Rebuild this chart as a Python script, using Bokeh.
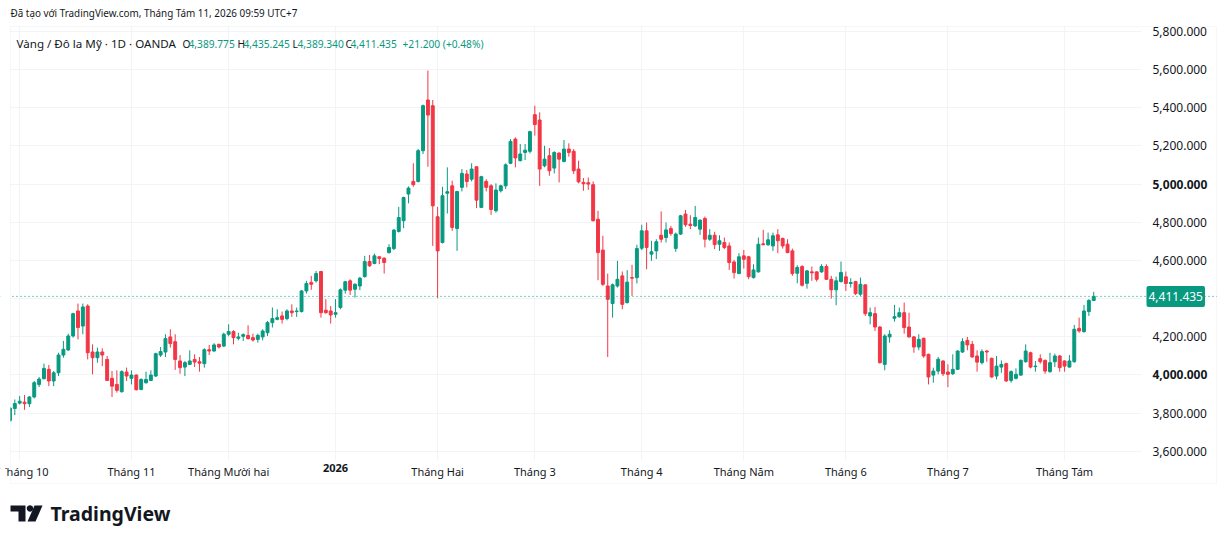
import math
from bokeh.plotting import figure
from bokeh.models import (ColumnDataSource, FixedTicker, NumeralTickFormatter, Span, Label,
                          BoxAnnotation, PolyAnnotation, LinearAxis, Grid)
from bokeh.embed import file_html
from bokeh.resources import INLINE

# ---- data: XAU/USD daily (OANDA) ----
open_ = [3760, 3824, 3852, 3857, 3849, 3884, 3950, 3980, 4029, 3968,
         4011, 4104, 4131, 4204, 4335, 4256, 4361, 4120, 4090, 4120,
         4081, 3982, 3950, 3912, 4015, 3982, 3999, 3924, 3959, 3971,
         3994, 4104, 4120, 4199, 4174, 4073, 4041, 4055, 4081, 4069,
         4059, 4132, 4125, 4160, 4151, 4213, 4227, 4192, 4202, 4207,
         4195, 4186, 4199, 4221, 4274, 4291, 4309, 4295, 4335, 4332,
         4332, 4440, 4484, 4493, 4542, 4339, 4335, 4318, 4353, 4444,
         4493, 4449, 4466, 4515, 4594, 4584, 4619, 4612, 4641, 4662,
         4752, 4808, 4948, 5014, 5014, 5175, 5441, 5411, 4829, 4694,
         4952, 4991, 4767, 4983, 5053, 5026, 5091, 4878, 5014, 4991,
         4860, 4965, 4991, 5109, 5236, 5123, 5166, 5172, 5364, 5336,
         5096, 5149, 5084, 5163, 5119, 5184, 5172, 5079, 5009, 5007,
         4997, 4816, 4654, 4466, 4374, 4466, 4519, 4379, 4510, 4510,
         4664, 4755, 4633, 4650, 4732, 4720, 4767, 4663, 4738, 4843,
         4790, 4781, 4764, 4820, 4711, 4732, 4685, 4694, 4676, 4592,
         4531, 4624, 4619, 4510, 4540, 4687, 4682, 4676, 4734, 4715,
         4685, 4650, 4533, 4568, 4480, 4540, 4540, 4540, 4568, 4501,
         4446, 4489, 4514, 4479, 4489, 4423, 4472, 4309, 4321, 4251,
         4055, 4199, 4297, 4305, 4326, 4251, 4199, 4146, 4192, 4108,
         3999, 4020, 4073, 4015, 4006, 4029, 4120, 4181, 4160, 4099,
         4064, 4125, 4087, 3994, 4041, 4059, 3971, 3982, 3999, 4069,
         4116, 4043, 4085, 4076, 4017, 4069, 4099, 4073, 4041, 4069,
         4244, 4227, 4332, 4389.775]
high = [3830, 3871, 3889, 3894, 3889, 3968, 3989, 4059, 4052, 4020,
        4116, 4178, 4216, 4326, 4374, 4374, 4370, 4160, 4143, 4139,
        4099, 4020, 4024, 4024, 4038, 4024, 4003, 3982, 4017, 4024,
        4116, 4146, 4213, 4239, 4213, 4104, 4073, 4129, 4108, 4094,
        4139, 4157, 4166, 4164, 4221, 4265, 4234, 4221, 4218, 4260,
        4216, 4216, 4239, 4283, 4353, 4344, 4332, 4344, 4370, 4353,
        4444, 4493, 4519, 4545, 4545, 4397, 4361, 4397, 4453, 4493,
        4501, 4480, 4514, 4624, 4629, 4636, 4622, 4615, 4685, 4764,
        4881, 4934, 4988, 5109, 5184, 5417, 5595, 5441, 4881, 4986,
        5088, 5018, 4965, 5079, 5074, 5109, 5091, 5044, 5026, 5000,
        5004, 4997, 5109, 5236, 5245, 5210, 5210, 5280, 5411, 5376,
        5201, 5189, 5172, 5166, 5231, 5214, 5184, 5123, 5032, 5035,
        5014, 4860, 4729, 4531, 4479, 4598, 4542, 4549, 4577, 4682,
        4787, 4799, 4703, 4711, 4857, 4799, 4781, 4746, 4839, 4864,
        4837, 4886, 4816, 4830, 4764, 4750, 4732, 4720, 4694, 4603,
        4638, 4655, 4624, 4580, 4720, 4760, 4746, 4746, 4764, 4720,
        4711, 4662, 4575, 4575, 4550, 4568, 4543, 4580, 4580, 4519,
        4515, 4594, 4542, 4507, 4493, 4510, 4475, 4353, 4356, 4256,
        4213, 4234, 4367, 4353, 4379, 4326, 4204, 4213, 4195, 4111,
        4038, 4094, 4076, 4055, 4108, 4129, 4192, 4199, 4178, 4129,
        4134, 4130, 4090, 4099, 4076, 4064, 4024, 4034, 4081, 4160,
        4122, 4073, 4108, 4081, 4116, 4111, 4104, 4076, 4104, 4262,
        4300, 4367, 4397, 4435.245]
low = [3755, 3789, 3845, 3817, 3831, 3877, 3936, 3976, 3941, 3941,
       3994, 4090, 4125, 4195, 4186, 4213, 4081, 4003, 4064, 4046,
       3968, 3884, 3907, 3907, 3968, 3950, 3919, 3919, 3954, 3968,
       3989, 4094, 4094, 4143, 4026, 4006, 3994, 4052, 4041, 4017,
       4038, 4104, 4122, 4139, 4146, 4202, 4160, 4181, 4178, 4186,
       4174, 4169, 4181, 4204, 4248, 4286, 4269, 4286, 4304, 4304,
       4327, 4426, 4446, 4484, 4300, 4321, 4269, 4300, 4344, 4426,
       4419, 4405, 4444, 4510, 4566, 4580, 4580, 4531, 4636, 4654,
       4746, 4769, 4899, 4986, 5009, 5158, 5091, 4676, 4402, 4689,
       4846, 4755, 4650, 4962, 4983, 5014, 4874, 4874, 4962, 4839,
       4851, 4956, 4974, 5105, 5088, 5119, 5126, 5161, 5254, 4991,
       5088, 5044, 5056, 5009, 5114, 5144, 5053, 5004, 4965, 4970,
       4804, 4496, 4466, 4094, 4300, 4458, 4344, 4374, 4414, 4479,
       4654, 4554, 4598, 4607, 4694, 4694, 4729, 4645, 4734, 4776,
       4764, 4776, 4734, 4668, 4703, 4659, 4650, 4659, 4550, 4505,
       4528, 4557, 4501, 4505, 4536, 4680, 4676, 4650, 4638, 4662,
       4638, 4519, 4480, 4463, 4452, 4493, 4489, 4536, 4498, 4400,
       4365, 4484, 4440, 4458, 4419, 4414, 4309, 4265, 4230, 4059,
       4024, 4169, 4279, 4300, 4216, 4195, 4116, 4129, 4090, 3950,
       3959, 4003, 3994, 3936, 3999, 4026, 4115, 4129, 4090, 4017,
       4055, 4069, 3985, 3976, 4011, 3964, 3959, 3976, 3994, 4064,
       4034, 4017, 4059, 4006, 4011, 4041, 4017, 4017, 4038, 4064,
       4221, 4221, 4309, 4389.340]
close = [3826, 3850, 3862, 3849, 3884, 3959, 3978, 4034, 3968, 4011,
         4104, 4134, 4204, 4321, 4248, 4356, 4116, 4090, 4120, 4104,
         3971, 3941, 3919, 4017, 3994, 3999, 3922, 3976, 3976, 3999,
         4111, 4122, 4190, 4164, 4081, 4038, 4064, 4073, 4067, 4061,
         4132, 4125, 4157, 4146, 4213, 4227, 4195, 4199, 4211, 4190,
         4183, 4207, 4230, 4274, 4295, 4300, 4291, 4335, 4326, 4335,
         4440, 4479, 4475, 4531, 4326, 4326, 4314, 4326, 4446, 4488,
         4444, 4475, 4507, 4594, 4572, 4624, 4610, 4589, 4668, 4759,
         4825, 4930, 4979, 4997, 5175, 5411, 5362, 4886, 4650, 4939,
         4960, 4773, 4961, 5056, 5014, 5079, 4916, 5039, 4983, 4867,
         4969, 4991, 5101, 5224, 5137, 5158, 5178, 5275, 5312, 5079,
         5131, 5070, 5166, 5131, 5184, 5166, 5070, 5012, 5002, 5000,
         4808, 4641, 4475, 4396, 4472, 4501, 4370, 4486, 4507, 4662,
         4755, 4668, 4645, 4698, 4711, 4760, 4741, 4738, 4834, 4787,
         4783, 4825, 4811, 4711, 4732, 4683, 4703, 4668, 4589, 4536,
         4619, 4606, 4515, 4550, 4685, 4682, 4708, 4729, 4703, 4676,
         4641, 4531, 4563, 4470, 4545, 4535, 4501, 4568, 4501, 4446,
         4493, 4537, 4479, 4484, 4426, 4475, 4321, 4326, 4251, 4064,
         4204, 4213, 4305, 4326, 4248, 4199, 4146, 4186, 4099, 3989,
         4020, 4082, 4006, 4003, 4029, 4125, 4174, 4157, 4094, 4067,
         4122, 4120, 3989, 4046, 4055, 3968, 4017, 4003, 4076, 4125,
         4041, 4046, 4069, 4020, 4064, 4099, 4038, 4046, 4073, 4239,
         4230, 4335, 4390.235, 4411.435]

month_index = [2, 25, 45, 67, 88, 108, 130, 151, 172, 193, 217]
month_labels = ["Tháng 10", "Tháng 11", "Tháng Mười hai", "2026", "Tháng Hai",
                "Tháng 3", "Tháng 4", "Tháng Năm", "Tháng 6", "Tháng 7", "Tháng Tám"]
bold_month = "2026"
price_ticks = [3600, 3800, 4000, 4200, 4400, 4600, 4800, 5000, 5200, 5400, 5600, 5800]
bold_prices = [4000, 5000]

symbol_text = "Vàng / Đô la Mỹ · 1D · OANDA"
header_text = "Đã tạo với TradingView.com, Tháng Tám 11, 2026 09:59 UTC+7"

# ---- styling / layout ----
UP = "#089981"
DOWN = "#F23645"
TXT = "#131722"
GRID = "#f3f4f8"
FONT = "Noto Sans"
W, H = 1222, 540          # canvas = plot frame (whole picture)
X0, STEP = 9.44, 4.86     # px of bar 0, px per bar
PY, PSCALE = 31.0, 0.19077  # px of 5800, px per price unit


def S(y):  # picture y (from top) -> screen y (from bottom)
    return H - y


pane_right = (1141 - X0) / STEP
pane_bottom = 5800 - (460 - PY) / PSCALE
pane_top = 5800 - (26 - PY) / PSCALE

n = len(close)
xs = list(range(n))
colors = [UP if c >= o else DOWN for o, c in zip(open_, close)]
tops = [max(o, c) for o, c in zip(open_, close)]
bots = [min(o, c) for o, c in zip(open_, close)]
src = ColumnDataSource(dict(x=xs, high=high, low=low, top=tops, bottom=bots, color=colors))

p = figure(width=W, height=H,
           x_range=(-X0 / STEP, (W - X0) / STEP),
           y_range=(5800 - (H - PY) / PSCALE, 5800 + PY / PSCALE),
           x_axis_location=None, y_axis_location=None,
           toolbar_location=None, output_backend="svg", min_border=0)
p.outline_line_color = None
p.background_fill_color = "white"
p.border_fill_color = "white"

# grids
p.xgrid.ticker = FixedTicker(ticks=month_index)
p.ygrid.ticker = FixedTicker(ticks=price_ticks)
p.xgrid.grid_line_color = GRID
p.ygrid.grid_line_color = GRID
if "cross_bounds" in Grid.properties():
    p.xgrid.cross_bounds = (pane_bottom, pane_top)
    p.ygrid.cross_bounds = (0, pane_right)

p.segment(x0="x", y0="low", x1="x", y1="high", line_color="color", line_width=1, source=src)
p.vbar(x="x", width=0.6, top="top", bottom="bottom", fill_color="color",
       line_color="color", line_width=1, source=src)

# price axis (right edge of the pane)
yax = LinearAxis(ticker=FixedTicker(ticks=price_ticks),
                 formatter=NumeralTickFormatter(format="0,0.000"),
                 fixed_location=pane_right)
overrides_y = {v: "" for v in bold_prices}
overrides_y[4400] = ""
yax.major_label_overrides = overrides_y
yax.axis_line_color = None
yax.major_tick_line_color = None
yax.minor_tick_line_color = None
yax.major_tick_out = 0
yax.major_tick_in = 0
yax.major_label_standoff = 11
yax.major_label_text_font = FONT
yax.major_label_text_font_size = "12px"
yax.major_label_text_color = TXT
p.add_layout(yax, "right")

# time axis (bottom of the pane)
xax = LinearAxis(ticker=FixedTicker(ticks=month_index), fixed_location=pane_bottom)
xax.major_label_overrides = {i: ("" if l == bold_month else l) for i, l in zip(month_index, month_labels)}
xax.axis_line_color = None
xax.major_tick_line_color = None
xax.minor_tick_line_color = None
xax.major_tick_out = 0
xax.major_tick_in = 0
xax.major_label_standoff = 3
xax.major_label_text_font = FONT
xax.major_label_text_font_size = "11px"
xax.major_label_text_color = TXT
p.add_layout(xax, "below")

# bold labels
for v in bold_prices:
    p.add_layout(Label(x=1152, x_units="screen", y=v, y_units="data", text=f"{v:,.3f}",
                       text_font=FONT, text_font_size="12px", text_font_style="bold",
                       text_color=TXT, text_align="left", text_baseline="middle"))
for i, l in zip(month_index, month_labels):
    if l == bold_month:
        p.add_layout(Label(x=i, x_units="data", y=S(463), y_units="screen", text=l,
                           text_font=FONT, text_font_size="11px", text_font_style="bold",
                           text_color=TXT, text_align="center", text_baseline="top"))

# last price line
last = close[-1]
p.add_layout(Span(location=last, dimension="width", line_color=UP, line_dash="1 3", line_width=1))

# white masks at the pane edges
p.add_layout(BoxAnnotation(left=0, right=9.6, top=S(27), bottom=S(459),
                           left_units="screen", right_units="screen",
                           top_units="screen", bottom_units="screen",
                           fill_color="white", fill_alpha=1, line_color=None))
p.add_layout(BoxAnnotation(left=0, right=5, top=S(460), bottom=S(483),
                           left_units="screen", right_units="screen",
                           top_units="screen", bottom_units="screen",
                           fill_color="white", fill_alpha=1, line_color=None))
p.add_layout(BoxAnnotation(left=1216.5, right=W, top=H, bottom=0,
                           left_units="screen", right_units="screen",
                           top_units="screen", bottom_units="screen",
                           fill_color="white", fill_alpha=1, line_color=None))

# price tag
p.add_layout(Label(x=1146, x_units="screen", y=last, y_units="data", text=f"{last:,.3f}",
                   text_font=FONT, text_font_size="12px", text_color="white",
                   background_fill_color=UP, padding=(2, 6), border_radius=2,
                   text_align="left", text_baseline="middle"))

# outer border of the chart
p.add_layout(BoxAnnotation(left=10, right=1216, top=S(26), bottom=S(483),
                           left_units="screen", right_units="screen",
                           top_units="screen", bottom_units="screen",
                           fill_alpha=0, line_color="#e0e3eb", line_width=1))

# header and legend
p.add_layout(Label(x=10, y=S(12), x_units="screen", y_units="screen", text=header_text,
                   text_font=FONT, text_font_size="9.9px", text_color=TXT,
                   text_align="left", text_baseline="middle"))
chg = close[-1] - close[-2]
pct = chg / close[-2] * 100
legend_parts = [
    (16, symbol_text, TXT, "11.6px"),
    (182, "O", TXT, "10.2px"), (188, f"{open_[-1]:,.3f}", UP, "10.2px"),
    (237, "H", TXT, "10.2px"), (243, f"{high[-1]:,.3f}", UP, "10.2px"),
    (292, "L", TXT, "10.2px"), (297, f"{low[-1]:,.3f}", UP, "10.2px"),
    (345, "C", TXT, "10.2px"), (350, f"{close[-1]:,.3f}", UP, "10.2px"),
    (402, f"{chg:+.3f} ({pct:+.2f}%)", UP, "10.2px"),
]
for sx, t, col, fs in legend_parts:
    p.add_layout(Label(x=sx, y=S(43), x_units="screen", y_units="screen", text=t,
                       text_font=FONT, text_font_size=fs, text_color=col,
                       text_align="left", text_baseline="middle"))

# TradingView logo
p.add_layout(PolyAnnotation(xs=[10, 25, 25, 18, 18, 10],
                            ys=[S(505), S(505), S(521), S(521), S(511), S(511)],
                            xs_units="screen", ys_units="screen",
                            fill_color=TXT, fill_alpha=1, line_color=None))
cx, cy, r = 29.5, S(508), 3.2
p.add_layout(PolyAnnotation(xs=[cx + r * math.cos(a * math.pi / 8) for a in range(16)],
                            ys=[cy + r * math.sin(a * math.pi / 8) for a in range(16)],
                            xs_units="screen", ys_units="screen",
                            fill_color=TXT, fill_alpha=1, line_color=None))
p.add_layout(PolyAnnotation(xs=[34, 42, 35, 27], ys=[S(505), S(505), S(521), S(521)],
                            xs_units="screen", ys_units="screen",
                            fill_color=TXT, fill_alpha=1, line_color=None))
p.add_layout(Label(x=50, y=S(513), x_units="screen", y_units="screen", text="TradingView",
                   text_font=FONT, text_font_size="19.5px", text_font_style="bold",
                   text_color=TXT, text_align="left", text_baseline="middle"))

open("out.html", "w").write(file_html(p, INLINE))
